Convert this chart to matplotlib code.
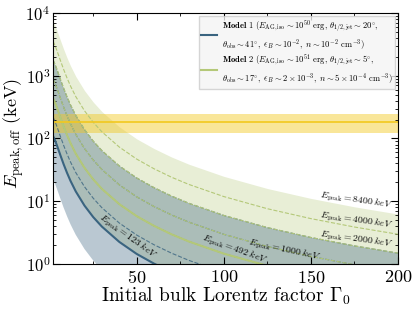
import numpy as np
import matplotlib
matplotlib.use('Agg')
import matplotlib.pyplot as plt

# Lorentz factor grid and curves
gamma0 = np.array([2, 3, 4, 5, 6, 8, 10, 12, 15, 20, 25, 30, 40, 50, 60, 70, 80,
                   100, 125, 150, 175, 200])
# model 1 reference line, E_peak = 123 keV
m1_ref = np.array([108.4, 94.4, 79.9, 66.8, 55.6, 39.0, 28.2, 21.0, 14.3, 8.50, 5.58,
                   3.93, 2.24, 1.44, 1.007, 0.741, 0.568, 0.364, 0.233, 0.162, 0.119, 0.0912])
m1_ref_epeak = 123
# model 2 reference line, E_peak = 492 keV
m2_ref = np.array([433.6, 377.6, 319.6, 267.0, 222.0, 156.0, 112.8, 84.0, 57.2, 34.0, 22.3,
                   15.7, 8.96, 5.76, 4.03, 2.96, 2.27, 1.456, 0.932, 0.648, 0.476, 0.365])
m2_ref_epeak = 492

m1_dashed = [246, 492, 1000, 2000]
m2_dashed = [1000, 2000, 4000]
m1_band = [25, 2000]
m2_band = [123, 8400]

ep_obs = 183
ep_obs_range = [120, 245]

label_epeaks = [123, 492, 1000, 2000, 4000, 8400]

c1 = '#3a6480'
c2 = '#b4c878'
cgold = '#f2c81e'

plt.rcParams['font.family'] = 'serif'
plt.rcParams['font.serif'] = ['cmr10']
plt.rcParams['mathtext.fontset'] = 'cm'
plt.rcParams['axes.formatter.use_mathtext'] = True
plt.rcParams['axes.unicode_minus'] = False

fig = plt.figure(figsize=(4.15, 3.09), dpi=100)
ax = fig.add_axes([0.128, 0.146, 0.831, 0.812])

def scaled(ref, ref_ep, ep):
    return ref * ep / ref_ep

# bands
ax.fill_between(gamma0, scaled(m2_ref, m2_ref_epeak, m2_band[0]),
                scaled(m2_ref, m2_ref_epeak, m2_band[1]), color=c2, alpha=0.3, lw=0)
ax.fill_between(gamma0, scaled(m1_ref, m1_ref_epeak, m1_band[0]),
                scaled(m1_ref, m1_ref_epeak, m1_band[1]), color=c1, alpha=0.35, lw=0)

for ep in m1_dashed:
    ax.plot(gamma0, scaled(m1_ref, m1_ref_epeak, ep), color=c1, ls='--', lw=0.8, alpha=0.8)
for ep in m2_dashed:
    ax.plot(gamma0, scaled(m2_ref, m2_ref_epeak, ep), color=c2, ls='--', lw=0.8)

ax.plot(gamma0, m1_ref, color=c1, lw=1.5,
        label=r'$\mathbf{Model\ 1}$ $(E_{\rm AG,iso}\sim10^{50}$ erg, $\theta_{1/2,\rm jet}\sim20^{\circ}$,'
              '\n' r'$\theta_{\rm obs}\sim41^{\circ},\ \epsilon_B\sim10^{-2},\ n\sim10^{-2}$ cm$^{-3})$')
ax.plot(gamma0, m2_ref, color=c2, lw=1.5,
        label=r'$\mathbf{Model\ 2}$ $(E_{\rm AG,iso}\sim10^{51}$ erg, $\theta_{1/2,\rm jet}\sim5^{\circ}$,'
              '\n' r'$\theta_{\rm obs}\sim17^{\circ},\ \epsilon_B\sim2\times10^{-3},\ n\sim5\times10^{-4}$ cm$^{-3})$')

# observed E_peak
ax.axhspan(ep_obs_range[0], ep_obs_range[1], color=cgold, alpha=0.45, lw=0)
ax.axhline(ep_obs, color=cgold, lw=1.2)

# curve labels
lab_pos = [(45, 2.7, -36), (106, 1.67, -20), (135, 1.67, -12),
           (176, 2.4, -8), (176, 4.85, -8), (176, 10.4, -8)]
for ep, (x, y, r) in zip(label_epeaks, lab_pos):
    ax.text(x, y, r'$E_{\rm peak}=%d\ keV$' % ep, rotation=r, fontsize=7,
            ha='center', va='center')

ax.set_yscale('log')
ax.set_xlim(2, 200)
ax.set_ylim(1, 1e4)
ax.set_xticks([50, 100, 150, 200])
ax.set_xticks([25, 75, 125, 175], minor=True)
ax.tick_params(which='both', direction='in', top=True, right=True)
ax.tick_params(axis='x', labelsize=13)
ax.tick_params(axis='y', labelsize=12, pad=2)
ax.tick_params(which='major', length=5)
ax.tick_params(which='minor', length=2.5)
ax.set_xlabel(r'Initial bulk Lorentz factor $\Gamma_0$', fontsize=14, labelpad=0)
ax.set_ylabel(r'$E_{\rm peak,off}$ (keV)', fontsize=13)
ax.yaxis.set_label_coords(-0.08, 0.52)

leg = ax.legend(loc='upper right', fontsize=6.2, frameon=True, fancybox=False,
                handlelength=1.8, borderpad=0.3, labelspacing=0.15, handletextpad=0.6,
                borderaxespad=0.3)
leg.get_frame().set_facecolor('#f4f4f4')
leg.get_frame().set_edgecolor('#cccccc')

fig.savefig('out.png', dpi=100)
